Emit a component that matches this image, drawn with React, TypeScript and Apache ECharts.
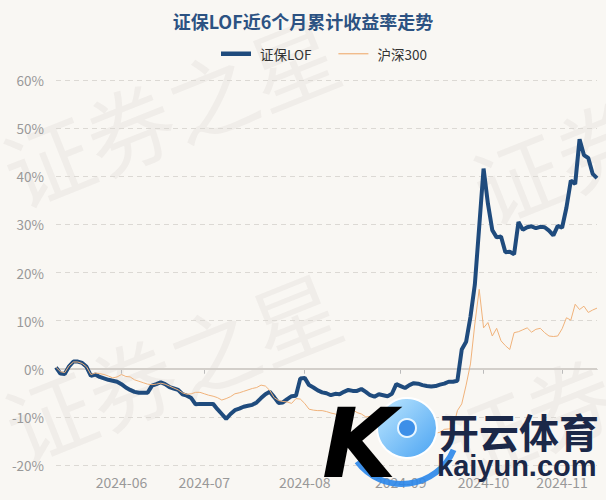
import React, { useEffect, useRef } from "react";
import * as echarts from "echarts";

// Trading days (categories), grouped by month
const mayDays = [13, 14, 15, 16, 17, 20, 21, 22, 23, 24, 27, 28, 29, 30, 31];
const junDays = [3, 4, 5, 6, 7, 11, 12, 13, 14, 17, 18, 19, 20, 21, 24, 25, 26, 27, 28];
const julDays = [1, 2, 3, 4, 5, 8, 9, 10, 11, 12, 15, 16, 17, 18, 19, 22, 23, 24, 25, 26, 29, 30, 31];
const augDays = [1, 2, 5, 6, 7, 8, 9, 12, 13, 14, 15, 16, 19, 20, 21, 22, 23, 26, 27, 28, 29, 30];
const sepDays = [2, 3, 4, 5, 6, 9, 10, 11, 12, 13, 18, 19, 20, 23, 24, 25, 26, 27, 30];
const octDays = [8, 9, 10, 11, 14, 15, 16, 17, 18, 21, 22, 23, 24, 25, 28, 29, 30, 31];
const novDays = [1, 4, 5, 6, 7, 8, 11, 12, 13];

// 证保LOF cumulative return (%)
const fundValues = [
  0.3, -1.0, -1.1, 0.5, 1.5, 1.5, 1.2, 0.4, -1.5, -1.2,
  -1.7, -2.0, -2.3, -2.5, -2.7, -3.2, -3.9, -4.4, -4.8, -5.0,
  -5.0, -5.0, -3.5, -3.2, -2.8, -3.2, -3.8, -4.1, -4.4, -5.3,
  -5.6, -6.1, -7.4, -7.3, -7.3, -7.3, -7.3, -8.4, -9.4, -10.4,
  -9.4, -8.6, -8.3, -7.9, -7.7, -7.5, -7.0, -6.1, -5.3, -4.8,
  -5.9, -7.1, -7.0, -6.3, -5.7, -5.6, -2.0, -1.9, -3.4, -3.9,
  -4.5, -4.9, -5.1, -5.5, -5.2, -5.3, -4.8, -4.4, -4.6, -4.6,
  -4.2, -4.8, -5.5, -5.8, -5.3, -5.5, -5.7, -5.2, -3.2, -3.6,
  -4.0, -3.4, -3.0, -3.1, -3.4, -3.6, -3.7, -3.6, -3.3, -3.1,
  -2.7, -2.7, -2.5, 4.0, 5.6, 10.8, 17.5, 29.5, 41.6, 34.3,
  28.8, 27.3, 27.5, 24.2, 24.3, 23.8, 30.5, 28.9, 29.4, 29.6,
  29.2, 29.5, 29.4, 28.7, 27.7, 29.7, 29.3, 33.5, 39.1, 38.4,
  47.7, 44.4, 43.8, 40.5, 39.6,
];

// 沪深300 cumulative return (%)
const indexValues = [
  0.3, -0.6, -0.8, 0.6, 1.4, 1.4, 1.1, 0.4, -1.2, -0.9,
  -1.0, -1.2, -1.5, -1.9, -1.7, -1.2, -1.6, -1.7, -2.3, -2.6,
  -2.9, -3.2, -3.3, -3.2, -3.0, -3.2, -3.6, -4.0, -4.4, -5.0,
  -5.3, -5.2, -4.9, -4.9, -5.2, -5.5, -5.7, -6.0, -6.5, -6.2,
  -5.8, -5.2, -5.0, -4.7, -4.4, -4.1, -3.9, -3.4, -3.6, -4.5,
  -6.0, -6.6, -6.8, -6.9, -7.2, -6.2, -6.3, -7.2, -8.4, -8.6,
  -8.7, -8.7, -8.9, -9.2, -9.4, -9.9, -8.9, -8.8, -8.5, -9.1,
  -9.4, -10.0, -9.9, -9.5, -10.3, -10.6, -10.3, -9.4, -10.8, -10.6,
  -11.0, -11.2, -11.8, -12.4, -12.5, -12.8, -13.1, -13.4, -13.2, -12.6,
  -12.5, -12.4, -8.7, -7.3, -3.4, 1.0, 9.3, 16.5, 8.5, 9.6,
  6.8, 8.4, 5.8, 4.8, 4.0, 7.5, 7.7, 8.1, 8.5, 7.6,
  8.2, 8.4, 7.5, 6.8, 6.7, 6.8, 8.3, 10.6, 10.1, 13.4,
  12.3, 13.0, 11.7, 12.2, 12.6,
];

const seriesNames = ["证保LOF", "沪深300"];
const titleText = "证保LOF近6个月累计收益率走势";

const pad = (d: number) => (d < 10 ? "0" + d : "" + d);
const monthGroups: [string, number[]][] = [
  ["2024-05", mayDays],
  ["2024-06", junDays],
  ["2024-07", julDays],
  ["2024-08", augDays],
  ["2024-09", sepDays],
  ["2024-10", octDays],
  ["2024-11", novDays],
];
const dates: string[] = [];
monthGroups.forEach(([m, days]) => days.forEach((d) => dates.push(m + "-" + pad(d))));
const firstOfMonth = new Set<number>();
dates.forEach((d, i) => {
  if (i > 0 && d.slice(0, 7) !== dates[i - 1].slice(0, 7)) firstOfMonth.add(i);
});

const CJK = '"Noto Sans CJK SC", "Noto Sans", sans-serif';
const BLUE = "#1f4b7d";
const ORANGE = "#f0b27a";

export default function App() {
  const ref = useRef<HTMLDivElement>(null);
  useEffect(() => {
    if (!ref.current) return;
    const chart = echarts.init(ref.current, undefined, { renderer: "svg" });
    const wm = (x: number, y: number) => ({
      type: "text",
      x,
      y,
      rotation: 0.38,
      z: 0,
      silent: true,
      style: {
        text: "证券之星",
        fill: "rgba(120,110,100,0.065)",
        font: '88px "Noto Sans CJK SC"',
        textVerticalAlign: "bottom",
      },
    });
    chart.setOption({
      animation: false,
      backgroundColor: "#f9f7f3",
      textStyle: { fontFamily: CJK },
      title: {
        text: titleText,
        left: "center",
        top: 7,
        textStyle: { color: "#2c5282", fontSize: 18, fontWeight: "bold", fontFamily: CJK },
      },
      legend: {
        data: [
          { name: seriesNames[0], icon: "path://M0,3 L30,3 L30,7.5 L0,7.5 Z" },
          { name: seriesNames[1], icon: "path://M0,3 L30,3 L30,4.2 L0,4.2 Z" },
        ],
        top: 42,
        left: 216,
        itemWidth: 30,
        itemHeight: 10,
        itemGap: 27,
        textStyle: { color: "#333", fontSize: 13.5, fontFamily: CJK, padding: [0, 0, 0, 4] },
      },
      grid: { left: 56, right: 9, top: 80, bottom: 35 },
      xAxis: {
        type: "category",
        data: dates,
        boundaryGap: false,
        axisLine: { lineStyle: { color: "#aaa", width: 1 } },
        axisTick: {
          show: true,
          interval: (i: number) => firstOfMonth.has(i),
          length: 5,
          lineStyle: { color: "#bbb" },
        },
        axisLabel: {
          interval: (i: number) => firstOfMonth.has(i),
          formatter: (v: string) => v.slice(0, 7),
          color: "#999",
          fontSize: 14,
          margin: 10,
          fontFamily: CJK,
        },
        splitLine: { show: false },
      },
      yAxis: {
        type: "value",
        min: -20,
        max: 60,
        interval: 10,
        axisLine: { show: false },
        axisTick: { show: false },
        axisLabel: { formatter: "{value}%", color: "#999", fontSize: 13.5, margin: 12, fontFamily: CJK },
        splitLine: { lineStyle: { color: "#dcd9d4", type: [5, 4], width: 1 } },
      },
      series: [
        {
          name: seriesNames[0],
          type: "line",
          data: fundValues,
          symbol: "none",
          z: 3,
          lineStyle: { color: BLUE, width: 4 },
          itemStyle: { color: BLUE },
          markLine: {
            silent: true,
            symbol: "none",
            label: { show: false },
            lineStyle: { color: "#d3cfca", width: 2, type: "solid" },
            data: [{ yAxis: 0 }],
            z: 1,
          },
        },
        {
          name: seriesNames[1],
          type: "line",
          data: indexValues,
          symbol: "none",
          z: 4,
          lineStyle: { color: ORANGE, width: 1 },
          itemStyle: { color: ORANGE },
        },
      ],
      graphic: [
        wm(22, 215),
        wm(24, 470),
        wm(492, 232),
        wm(462, 490),
        {
          type: "group",
          z: 100,
          children: [
            {
              type: "arc",
              shape: { cx: 402, cy: 428, r: 56, startAngle: 0.4, endAngle: 2.5 },
              style: { stroke: "#2a86ea", lineWidth: 6, fill: "none", opacity: 0.9 },
              z: 100,
            },
            {
              type: "circle",
              shape: { cx: 407, cy: 428, r: 30 },
              style: {
                fill: new echarts.graphic.LinearGradient(0, 0, 1, 1, [
                  { offset: 0, color: "#bfe8ff" },
                  { offset: 1, color: "#4aa3f2" },
                ]),
                stroke: "#ffffff",
                lineWidth: 2,
              },
              z: 101,
            },
            {
              type: "circle",
              shape: { cx: 407, cy: 428, r: 9 },
              style: { fill: "#3d8fe8", stroke: "#e8f6ff", lineWidth: 2 },
              z: 102,
            },
            {
              type: "text",
              x: 322,
              y: 396,
              z: 103,
              style: {
                text: "K",
                font: 'italic bold 96px "DejaVu Sans"',
                fill: new echarts.graphic.LinearGradient(0, 0, 1, 1, [
                  { offset: 0, color: "#4fdcf7" },
                  { offset: 1, color: "#2477ea" },
                ]),
                textVerticalAlign: "top",
              },
            },
            {
              type: "text",
              x: 439,
              y: 431,
              z: 103,
              style: {
                text: "开云体育",
                font: 'bold 40px "Noto Sans CJK SC"',
                fill: "#1b2848",
                textVerticalAlign: "middle",
              },
            },
            {
              type: "text",
              x: 437,
              y: 466,
              z: 103,
              style: {
                text: "kaiyun.com",
                font: 'bold 29px "Liberation Sans"',
                fill: "#1b2848",
                textVerticalAlign: "middle",
              },
            },
          ],
        },
      ],
    });
    return () => chart.dispose();
  }, []);
  return (
    <div
      ref={ref}
      style={{ position: "absolute", left: 0, top: 0, width: 606, height: 500 }}
    />
  );
}
